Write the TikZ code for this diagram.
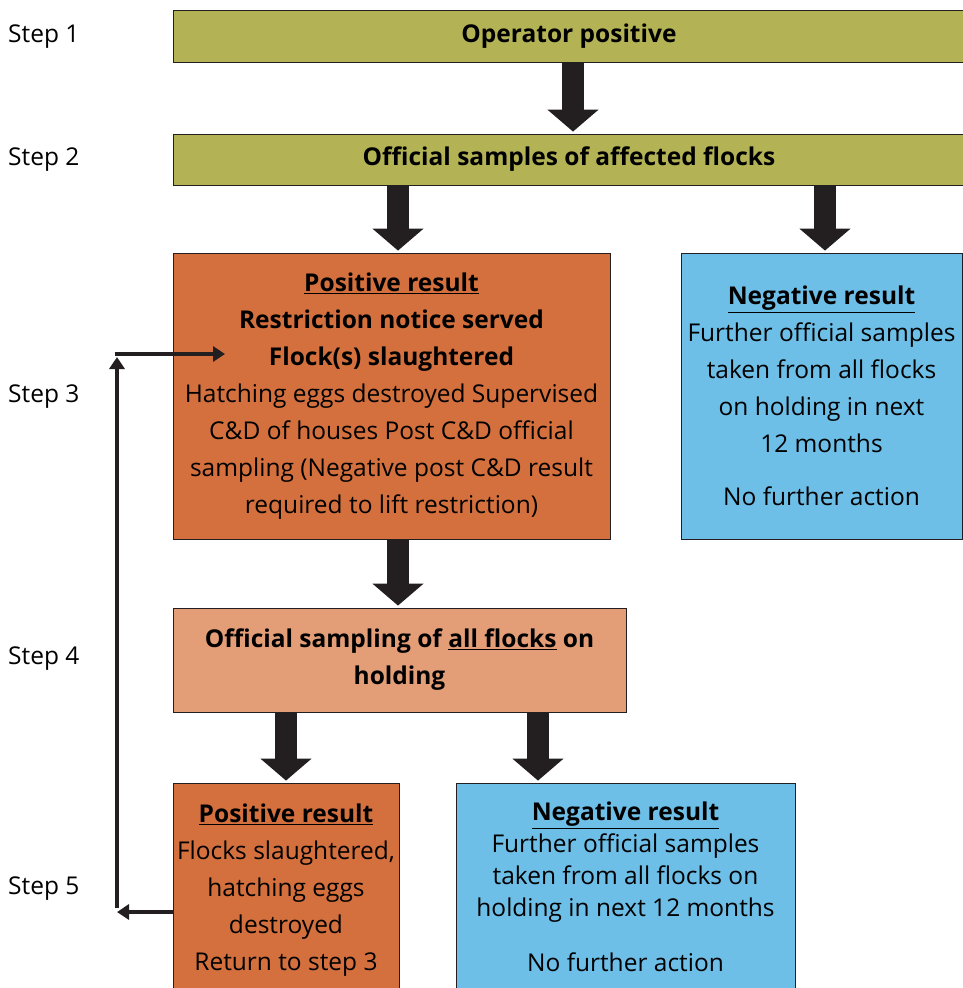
\documentclass[tikz,border=0pt]{standalone}
\usepackage{fontspec}
\setmainfont{Open Sans}
\usetikzlibrary{arrows.meta}

\definecolor{olivebox}{HTML}{B3B355}
\definecolor{posbox}{HTML}{D4703E}
\definecolor{samplebox}{HTML}{E39E78}
\definecolor{negbox}{HTML}{6DBFE8}
\definecolor{arrowdark}{HTML}{231F20}

\begin{document}
\begin{tikzpicture}[
        x=1pt, y=-1pt,
        font=\fontsize{24.5}{37}\selectfont,
        box/.style={draw=arrowdark, line width=0.8pt, align=center, inner sep=0pt},
        stagebox/.style={box, fill=olivebox, font=\fontsize{24.5}{37}\selectfont\bfseries},
        posresult/.style={box, fill=posbox},
        sampling/.style={box, fill=samplebox, font=\fontsize{24.5}{37}\selectfont\bfseries},
        negresult/.style={box, fill=negbox},
        steplbl/.style={anchor=west, inner sep=0pt},
        bigarrow/.style={arrowdark, line width=22pt, shorten >=2pt, -{Triangle[width=50pt, length=22pt]}},
        fb/.style={arrowdark, line width=4pt, -{Triangle[width=15pt, length=12pt]}}
      ]
      \useasboundingbox (0,0) rectangle (963,988);
      \clip (0,0) rectangle (963,988);

      % step labels
      \node[steplbl] (s1) at (8,37) {Step 1};
      \node[steplbl] (s2) at (8,160) {Step 2};
      \node[steplbl] (s3) at (8,397) {Step 3};
      \node[steplbl] (s4) at (8,659) {Step 4};
      \node[steplbl] (s5) at (8,889) {Step 5};

      % boxes
      \node[stagebox, minimum width=792, minimum height=52] (op) at (569,36) {Operator positive};
      \node[stagebox, minimum width=792, minimum height=51] (off) at (569,159.5) {Official samples of affected flocks};

      \node[posresult, minimum width=437, minimum height=286] (p3) at (391.5,396)
        {\textbf{\underline{Positive result}}\\ \textbf{Restriction notice served}\\ \textbf{Flock(s) slaughtered}\\
         Hatching eggs destroyed Supervised\\ C\&D of houses Post C\&D official\\
         sampling (Negative post C\&D result\\ required to lift restriction)};
      \node[negresult, minimum width=281, minimum height=286] (n3) at (821.5,396)
        {\textbf{\underline{Negative result}}\\ Further official samples\\ taken from all flocks\\
         on holding in next\\ 12 months\\[16pt] No further action};

      \node[sampling, minimum width=453, minimum height=104] (all) at (399.5,660)
        {Official sampling of \underline{all flocks} on\\ holding};

      \node[posresult, minimum width=226, minimum height=214] (p5) at (286,890)
        {\textbf{\underline{Positive result}}\\ Flocks slaughtered,\\ hatching eggs\\ destroyed\\ Return to step 3};
      \node[negresult, minimum width=339, minimum height=208, font=\fontsize{24.5}{32}\selectfont] (n5) at (625.5,887)
        {\textbf{\underline{Negative result}}\\ Further official samples\\ taken from all flocks on\\
         holding in next 12 months\\[23pt] No further action};

      % big arrows
      \draw[bigarrow] ([xshift=4]op.south) -- ([xshift=4]op.south |- off.north);
      \draw[bigarrow] ([xshift=6.5]p3.north |- off.south) -- ([xshift=6.5]p3.north);
      \draw[bigarrow] ([xshift=3.5]n3.north |- off.south) -- ([xshift=3.5]n3.north);
      \draw[bigarrow] ([xshift=6.5]p3.south) -- ([xshift=6.5]p3.south |- all.north);
      \draw[bigarrow] (p5.north |- all.south) -- (p5.north);
      \draw[bigarrow] ([xshift=138.5]all.south) -- ([xshift=138.5]all.south |- n5.north);

      % feedback loop
      \coordinate (fbBot) at (117,912);
      \coordinate (fbTop) at (117,354);
      \coordinate (fbEnd) at (225,354);
      \draw[fb] (p5.west |- fbBot) -- (fbBot);
      \draw[fb, shorten <=4pt, shorten >=3pt] (fbBot) -- (fbTop);
      \draw[fb, shorten <=-2pt] (fbTop) -- (fbEnd);
    \end{tikzpicture}
\end{document}
